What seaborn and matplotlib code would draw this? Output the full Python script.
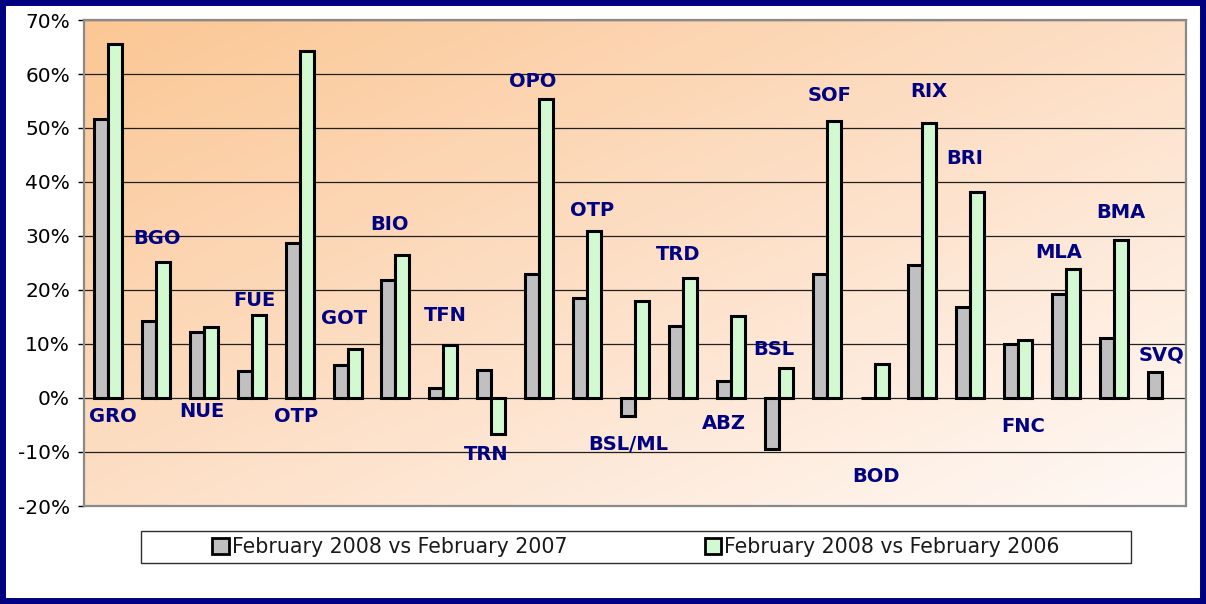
import numpy as np
import pandas as pd
import matplotlib
matplotlib.use("Agg")
import matplotlib.pyplot as plt
from matplotlib.colors import LinearSegmentedColormap
from matplotlib.patches import Rectangle
from matplotlib.ticker import FuncFormatter
import seaborn as sns

# Airports (OTP appears twice in the original)
airports = ["GRO", "BGO", "NUE", "FUE", "OTP", "GOT", "BIO", "TFN", "TRN", "OPO", "OTP", "BSL/ML",
            "TRD", "ABZ", "BSL", "SOF", "BOD", "RIX", "BRI", "FNC", "MLA", "BMA", "SVQ"]

# % change, February 2008 vs February 2007
vs_2007 = [51.6, 14.2, 12.2, 5.0, 28.7, 6.2, 21.9, 1.8, 5.2, 23.0, 18.6, -3.4,
           13.4, 3.2, -9.4, 23.0, 0.0, 24.7, 16.9, 10.0, 19.2, 11.2, 4.8]

# % change, February 2008 vs February 2006
vs_2006 = [65.6, 25.2, 13.2, 15.3, 64.2, 9.0, 26.4, 9.9, -6.6, 55.3, 30.9, 18.0,
           22.3, 15.2, 5.5, 51.3, 6.3, 51.0, 38.2, 10.7, 23.9, 29.3, np.nan]

series_names = ["February 2008 vs February 2007", "February 2008 vs February 2006"]

# where each airport name sits (category position, value in %)
label_x = [0.10, 1.02, 1.97, 3.05, 3.93, 4.92, 5.87, 7.04, 7.89, 8.87, 10.11, 10.86,
           11.91, 12.85, 13.90, 15.07, 16.03, 17.13, 17.89, 19.11, 19.85, 21.14, 21.98]
label_y = [-3.5, 29.5, -2.5, 18.0, -3.4, 14.7, 32.1, 15.3, -10.5, 58.6, 34.7, -8.7,
           26.6, -4.7, 8.9, 56.0, -14.6, 56.8, 44.3, -5.2, 26.9, 34.4, 8.0]

df = pd.DataFrame({
    "pos": list(range(len(airports))) * 2,
    "value": vs_2007 + vs_2006,
    "series": [series_names[0]] * len(airports) + [series_names[1]] * len(airports),
})

sns.set_style("white")
plt.rcParams["font.family"] = ["DejaVu Sans"]

fig = plt.figure(figsize=(12.06, 6.04), dpi=100)
ax = fig.add_axes([84 / 1206, 1 - 506 / 604, 1102 / 1206, 486 / 604])

# diagonal peach-to-white background gradient
grad_cmap = LinearSegmentedColormap.from_list("peach", ["#FBC794", "#FDDFC6", "#FFF9F6"])
u, v = np.meshgrid(np.linspace(0, 1, 300), np.linspace(0, 1, 150))
ax.imshow((u + v) / 2, cmap=grad_cmap, aspect="auto", extent=(0, 1, 0, 1),
          transform=ax.transAxes, zorder=-2, origin="upper")

sns.barplot(data=df, x="pos", y="value", hue="series", hue_order=series_names,
            palette=["#C0C0C0", "#CCFFCC"], width=0.585, gap=0,
            edgecolor="black", linewidth=2.2, ax=ax)

handles, labels = ax.get_legend_handles_labels()
ax.get_legend().remove()

ax.set_xlim(-0.5, len(airports) - 0.5)
ax.set_ylim(-20, 70)
ax.set_yticks(range(-20, 71, 10))
ax.yaxis.set_major_formatter(FuncFormatter(lambda y, _: f"{int(y)}%"))
ax.set_xticks([])
ax.set_xlabel("")
ax.set_ylabel("")
ax.set_axisbelow(True)
ax.grid(axis="y", color="#202020", linewidth=0.9)
ax.tick_params(axis="y", left=True, length=4.5, width=1, color="black", pad=5.5,
               labelsize=14.5, labelcolor="black")
for side in ax.spines.values():
    side.set_color("#8a8a8a")
    side.set_linewidth(1.6)

for name, x, y in zip(airports, label_x, label_y):
    ax.text(x, y, name, ha="center", va="center", fontsize=14, fontweight="bold",
            color="#000080", zorder=5)

# legend with a wide box
fig.patches.append(Rectangle((141 / 1206, 1 - 563 / 604), 990 / 1206, 32 / 604,
                             transform=fig.transFigure, facecolor="white",
                             edgecolor="#303030", linewidth=1.0))
leg = fig.legend(handles, labels, loc="center", bbox_to_anchor=(636 / 1206, 1 - 547 / 604),
                 ncol=2, frameon=False, fontsize=14.8, handlelength=0.8, handleheight=0.8,
                 handletextpad=0.15, columnspacing=6.7, borderpad=0)
for h in leg.legend_handles:
    h.set_edgecolor("black")
    h.set_linewidth(2.0)
for t in leg.get_texts():
    t.set_color("#1a1a1a")

# navy frame around the whole picture
fig.patches.append(Rectangle((0, 0), 1, 1, transform=fig.transFigure, fill=False,
                             edgecolor="#000080", linewidth=8.6))

fig.savefig("out.png", dpi=100, facecolor="white")
